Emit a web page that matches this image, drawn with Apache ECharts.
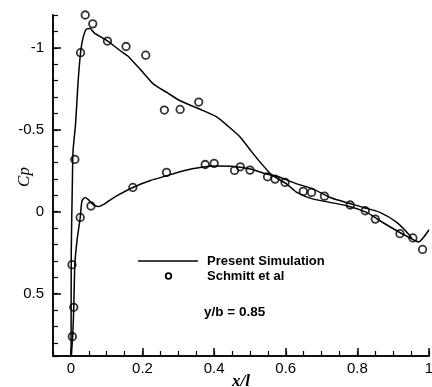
<!DOCTYPE html>
<html>
<head>
<meta charset="utf-8">
<script src="https://cdn.jsdelivr.net/npm/echarts@6/dist/echarts.min.js"></script>
<style>
  html, body { margin: 0; padding: 0; background: #fff; }
  #chart { width: 432px; height: 387px; }
</style>
</head>
<body>
<div id="chart"></div>
<script>
// upper surface, trailing edge -> leading edge
var upperX = [0.952, 0.910, 0.863, 0.826, 0.770, 0.677, 0.631, 0.603, 0.575, 0.556, 0.529, 0.505, 0.473, 0.440, 0.406, 0.361, 0.305, 0.269, 0.230, 0.202, 0.158, 0.138, 0.101, 0.064, 0.054, 0.043, 0.033, 0.027, 0.020, 0.013, 0.006, 0.004, 0.001, 0.0005];
var upperCp = [0.166, 0.116, 0.055, 0.004, -0.037, -0.077, -0.118, -0.169, -0.205, -0.235, -0.301, -0.365, -0.455, -0.520, -0.580, -0.625, -0.677, -0.726, -0.780, -0.848, -0.951, -0.982, -1.043, -1.093, -1.118, -1.114, -1.053, -0.970, -0.790, -0.535, -0.372, -0.169, 0.238, 0.88];

// lower surface, leading edge -> trailing edge (with the little hook at the end)
var lowerX = [0.001, 0.005, 0.008, 0.011, 0.017, 0.026, 0.031, 0.040, 0.050, 0.064, 0.078, 0.096, 0.129, 0.173, 0.222, 0.268, 0.315, 0.361, 0.408, 0.454, 0.501, 0.547, 0.585, 0.631, 0.677, 0.724, 0.817, 0.863, 0.910, 0.947, 0.952, 0.971, 1.0];
var lowerCp = [0.88, 0.76, 0.583, 0.323, 0.177, 0.035, -0.067, -0.087, -0.071, -0.041, -0.032, -0.051, -0.098, -0.148, -0.190, -0.220, -0.250, -0.270, -0.279, -0.276, -0.260, -0.230, -0.209, -0.170, -0.138, -0.087, -0.026, 0.004, 0.065, 0.146, 0.166, 0.184, 0.11];

// Schmitt et al
var expX = [0.004, 0.008, 0.003, 0.011, 0.027, 0.040, 0.061, 0.102, 0.154, 0.209, 0.261, 0.305, 0.357, 0.026, 0.056, 0.173, 0.267, 0.375, 0.400, 0.457, 0.473, 0.500, 0.549, 0.570, 0.598, 0.649, 0.672, 0.708, 0.780, 0.822, 0.850, 0.919, 0.955, 0.982];
var expCp = [0.762, 0.583, 0.323, -0.319, -0.970, -1.200, -1.146, -1.041, -1.008, -0.955, -0.620, -0.624, -0.669, 0.035, -0.035, -0.148, -0.240, -0.288, -0.295, -0.252, -0.274, -0.254, -0.213, -0.199, -0.179, -0.124, -0.118, -0.095, -0.041, -0.006, 0.045, 0.134, 0.160, 0.230];

var xTicks = [0, 0.2, 0.4, 0.6, 0.8, 1];
var yTicks = [-1, -0.5, 0, 0.5];

function pairs(xs, ys) {
  return xs.map(function (x, i) { return [x, ys[i]]; });
}

var chart = echarts.init(document.getElementById('chart'));

var labelFont = { color: '#000', fontFamily: 'Liberation Sans', fontSize: 15 };
var axisLine = { show: true, onZero: false, lineStyle: { color: '#000', width: 1.5 } };

var option = {
  animation: false,
  grid: { left: 53, right: 3, top: 15, bottom: 31, outerBoundsMode: 'none', containLabel: false },
  xAxis: [
    {
      type: 'value', min: -0.05, max: 1, interval: 0.05,
      axisLine: axisLine,
      axisTick: { show: true, inside: true, length: 5, lineStyle: { color: '#000', width: 1.2 } },
      axisLabel: { show: false },
      splitLine: { show: false },
      name: 'x/l', nameLocation: 'middle', nameGap: 17,
      nameTextStyle: { fontFamily: 'Liberation Serif', fontStyle: 'italic', fontWeight: 'bold', fontSize: 17, color: '#000' }
    },
    {
      type: 'value', min: -0.05, max: 1, position: 'bottom', offset: 0,
      axisLine: axisLine,
      axisTick: { show: true, inside: true, length: 8, customValues: xTicks, lineStyle: { color: '#000', width: 1.5 } },
      axisLabel: Object.assign({ customValues: xTicks, margin: 5, formatter: function (v) { return String(v); } }, labelFont),
      splitLine: { show: false }
    }
  ],
  yAxis: [
    {
      type: 'value', inverse: true, min: -1.2, max: 0.88, interval: 0.1,
      axisLine: axisLine,
      axisTick: { show: true, inside: true, length: 5, lineStyle: { color: '#000', width: 1.2 } },
      axisLabel: { show: false },
      splitLine: { show: false }
    },
    {
      type: 'value', inverse: true, min: -1.2, max: 0.88, position: 'left', offset: 0,
      axisLine: axisLine,
      axisTick: { show: true, inside: true, length: 8, customValues: yTicks, lineStyle: { color: '#000', width: 1.5 } },
      axisLabel: Object.assign({ customValues: yTicks, margin: 9, formatter: function (v) { return String(v); } }, labelFont),
      splitLine: { show: false }
    }
  ],
  series: [
    {
      name: 'Present Simulation', type: 'line', data: pairs(upperX, upperCp),
      symbol: 'none', smooth: 0.2, lineStyle: { color: '#000', width: 1.5 }, z: 2
    },
    {
      name: 'Present Simulation', type: 'line', data: pairs(lowerX, lowerCp),
      symbol: 'none', smooth: 0.2, lineStyle: { color: '#000', width: 1.5 }, z: 2
    },
    {
      name: 'Schmitt et al', type: 'scatter', data: pairs(expX, expCp),
      symbol: 'circle', symbolSize: 7.5,
      itemStyle: { color: 'rgba(255,255,255,0)', borderColor: '#000', borderWidth: 1.8 }, z: 3
    }
  ],
  graphic: [
    { type: 'line', shape: { x1: 138, y1: 261, x2: 198, y2: 261 }, style: { stroke: '#000', lineWidth: 1.5 } },
    { type: 'circle', shape: { cx: 168.5, cy: 276, r: 2.8 }, style: { fill: 'none', stroke: '#000', lineWidth: 1.8 } },
    { type: 'text', x: 207, y: 261, style: { text: 'Present Simulation', font: 'bold 13px "Liberation Sans"', fill: '#000', textVerticalAlign: 'middle' } },
    { type: 'text', x: 207, y: 276, style: { text: 'Schmitt et al', font: 'bold 13px "Liberation Sans"', fill: '#000', textVerticalAlign: 'middle' } },
    { type: 'text', x: 204, y: 312, style: { text: 'y/b = 0.85', font: 'bold 13.5px "Liberation Sans"', fill: '#000', textVerticalAlign: 'middle' } },
    { type: 'text', x: 25, y: 177, rotation: Math.PI / 2, style: { text: 'Cp', font: 'italic 17px "Liberation Serif"', fill: '#000', textAlign: 'center', textVerticalAlign: 'middle' } }
  ]
};

chart.setOption(option);
</script>
</body>
</html>
